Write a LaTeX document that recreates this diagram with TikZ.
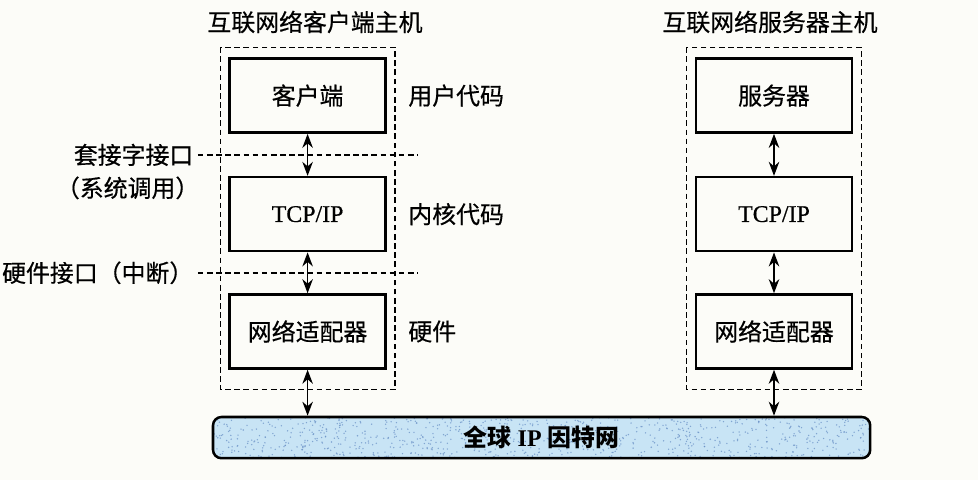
\documentclass[tikz,border=0pt]{standalone}
\usepackage{fontspec}
\setmainfont[UprightFeatures={FakeBold=0.6}]{Liberation Serif}
\newfontfamily\cjk[UprightFeatures={FakeBold=0.5}]{Noto Sans CJK SC}
\usetikzlibrary{arrows.meta,positioning,calc}
\definecolor{paper}{RGB}{252,252,248}
\definecolor{netblue}{RGB}{200,228,245}
\definecolor{speck}{RGB}{100,140,195}

\begin{document}
\begin{tikzpicture}[>={Stealth[length=10pt,width=7.5pt]},
  font=\fontsize{17}{20}\selectfont,
  box/.style={draw,line width=1.8pt,minimum width=3.9cm,minimum height=1.85cm},
  host/.style={draw,dash pattern=on 4pt off 2.5pt,line width=1pt},
  link/.style={<->,line width=1pt},
  iface/.style={dash pattern=on 4pt off 2.5pt,line width=1.1pt},
  side/.style={anchor=west,inner sep=0pt}]
\fill[paper] (0,0) rectangle (24.45,-12);
\useasboundingbox (0,0) rectangle (24.45,-12);

\node (ctitle) at (7.875,-0.55) {\cjk 互联网络客户端主机};
\node (stitle) at (19.25,-0.55) {\cjk 互联网络服务器主机};

\node (cli) [box] at (7.69,-2.39) {\cjk 客户端};
\node (ctcp) [box,below=1.05cm of cli] {TCP/IP};
\node (cnic) [box,below=1.02cm of ctcp] {\cjk 网络适配器};

\node (srv) [box] at (19.35,-2.39) {\cjk 服务器};
\node (stcp) [box,below=1.05cm of srv] {TCP/IP};
\node (snic) [box,below=1.02cm of stcp] {\cjk 网络适配器};

\draw[host] ($(cli.north west)+(-0.2,0.25)$) rectangle ($(cnic.south east)+(0.2,-0.5)$);
\draw[host] ($(srv.north west)+(-0.2,0.25)$) rectangle ($(snic.south east)+(0.2,-0.5)$);

\node (net) [draw,line width=1.8pt,rounded corners=6pt,fill=netblue,
  minimum width=16.43cm,minimum height=1.03cm,
  path picture={\pgfmathsetseed{7}
    \foreach \k in {1,...,900}
      \fill[speck,opacity=0.7] ($(path picture bounding box.south west)+(16.43*rnd,1.03*rnd)$) circle (0.55pt);
  }] at (13.54,-10.94) {\bfseries{\cjk 全球} IP {\cjk 因特网}};

\draw[link] (cli) -- (ctcp);
\draw[link] (ctcp) -- (cnic);
\draw[link] (cnic) -- (cnic |- net.north);
\draw[link] (srv) -- (stcp);
\draw[link] (stcp) -- (snic);
\draw[link] (snic) -- (snic |- net.north);

\coordinate (sock) at ($(cli.south)!0.5!(ctcp.north)$);
\coordinate (hw) at ($(ctcp.south)!0.5!(cnic.north)$);
\node (socklbl) [anchor=east,inner sep=0pt] at ($(sock)+(-2.85,0)$) {\cjk 套接字接口};
\node (syscall) [anchor=north east,inner sep=0pt] at ($(socklbl.south east)+(0.15,-0.25)$) {\cjk （系统调用）};
\node (hwlbl) [anchor=east,inner sep=0pt] at ($(hw)+(-2.85,0)$) {\cjk 硬件接口（中断）};
\draw[iface] ([xshift=3pt]socklbl.east) -- ($(sock)+(2.74,0)$);
\draw[iface] ([xshift=3pt]hwlbl.east) -- ($(hw)+(2.74,0)$);

\node (user) [side] at ($(cli.east)+(0.53,0)$) {\cjk 用户代码};
\node (kern) [side] at ($(ctcp.east)+(0.53,0)$) {\cjk 内核代码};
\node (hard) [side] at ($(cnic.east)+(0.53,0)$) {\cjk 硬件};
\end{tikzpicture}
\end{document}
